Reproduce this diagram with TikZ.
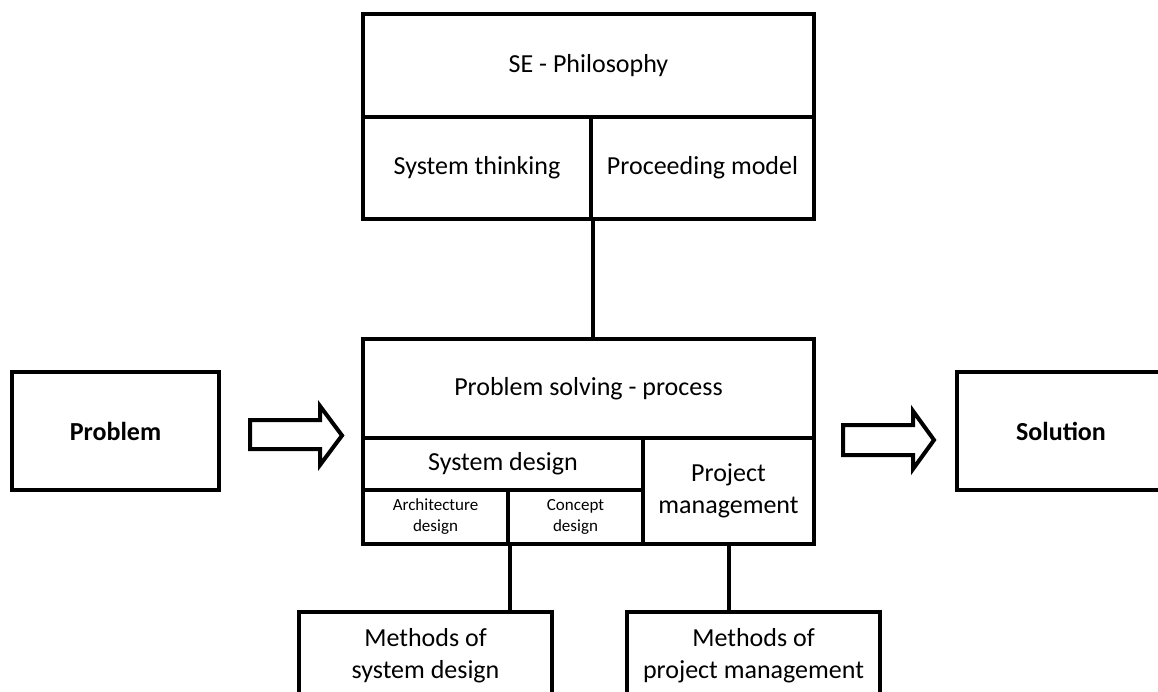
\documentclass[tikz,border=0pt]{standalone}
\usepackage{fontspec}
\setmainfont{Carlito}
\begin{document}
\begin{tikzpicture}[x=1pt,y=-1pt,
  cell/.style={draw=black,line width=4pt,inner sep=0pt,align=center,
    font=\fontsize{26}{32}\selectfont},
  smallcell/.style={cell,font=\fontsize{17}{21}\selectfont},
  endbox/.style={cell,font=\bfseries\fontsize{26}{32}\selectfont},
  link/.style={draw=black,line width=4pt},
  blockarrow/.style={draw=black,line width=4pt,line join=miter,fill=white}]
\useasboundingbox (0,0) rectangle (1158,692);

% SE philosophy block
\node[cell,minimum width=451,minimum height=103] (phil) at (588.5,65.5) {SE - Philosophy};
\node[cell,minimum width=228,minimum height=102] (think) at (477,168) {System thinking};
\node[cell,minimum width=223,minimum height=102] (model) at (702.5,168) {Proceeding model};

% problem solving block
\node[cell,minimum width=451,minimum height=99] (psp) at (588.5,388.5) {Problem solving - process};
\node[cell,minimum width=280,minimum height=52] (sysdes) at (503,464) {System design};
\node[smallcell,minimum width=145,minimum height=54] (arch) at (435.5,517) {Architecture\\design};
\node[smallcell,minimum width=135,minimum height=54] (concept) at (575.5,517) {Concept\\design};
\node[cell,minimum width=171,minimum height=106] (pm) at (728.5,491) {Project\\management};

% input and output
\node[endbox,minimum width=207,minimum height=118] (problem) at (115.5,431) {Problem};
\node[endbox,minimum width=208,minimum height=118] (solution) at (1061,431) {Solution};

% method boxes
\node[cell,minimum width=253,minimum height=88] (msd) at (425.5,656) {Methods of\\system design};
\node[cell,minimum width=253,minimum height=88] (mpm) at (753.5,656) {Methods of\\project management};

% connectors
\draw[link] (think.south east) -- (psp.north -| think.south east);
\draw[link] (arch.south east) -- (msd.north -| arch.south east);
\draw[link] (pm.south) -- (mpm.north -| pm.south);

% block arrows
\draw[blockarrow] (250,420) -- (320,420) -- (320,406) -- (342,435.5) -- (320,465)
  -- (320,449) -- (250,449) -- cycle;
\draw[blockarrow] (843,425) -- (913,425) -- (913,411) -- (934,440) -- (913,469)
  -- (913,455) -- (843,455) -- cycle;
\end{tikzpicture}
\end{document}
